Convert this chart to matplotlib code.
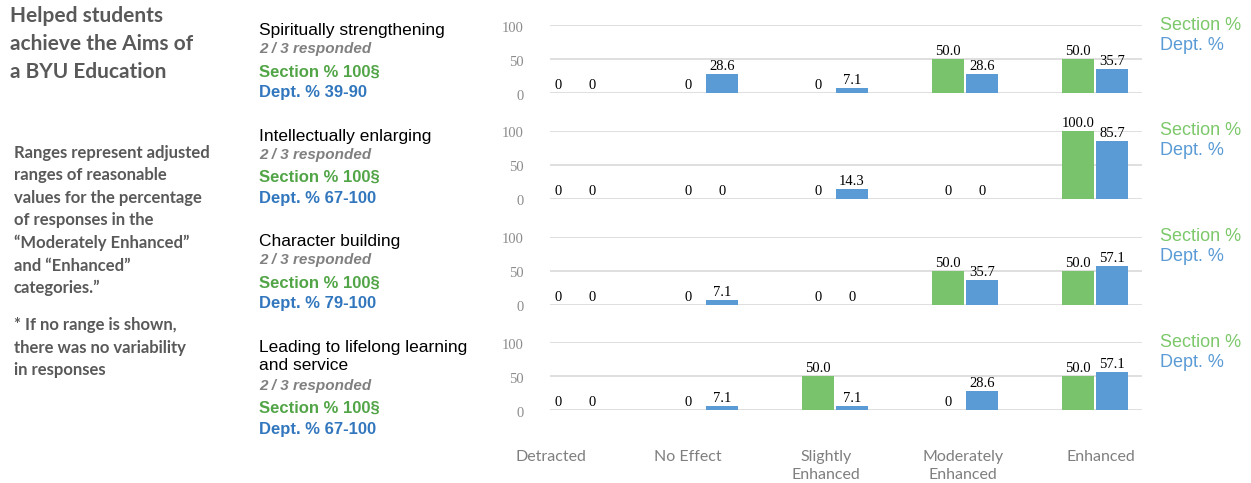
import matplotlib
matplotlib.use("Agg")
import matplotlib.pyplot as plt
from matplotlib.transforms import offset_copy

W, H = 1251, 483

categories = ["Detracted", "No Effect", "Slightly\nEnhanced", "Moderately\nEnhanced", "Enhanced"]
titles = ["Spiritually strengthening", "Intellectually enlarging", "Character building",
          "Leading to lifelong learning\nand service"]
responded = ["2 / 3 responded"] * 4
section_ranges = ["Section % 100§"] * 4
dept_ranges = ["Dept. % 39-90", "Dept. % 67-100", "Dept. % 79-100", "Dept. % 67-100"]

section_pct = [
    [0, 0, 0, 50.0, 50.0],
    [0, 0, 0, 0, 100.0],
    [0, 0, 0, 50.0, 50.0],
    [0, 0, 50.0, 0, 50.0],
]
dept_pct = [
    [0, 28.6, 7.1, 28.6, 35.7],
    [0, 0, 14.3, 0, 85.7],
    [0, 7.1, 0, 35.7, 57.1],
    [0, 7.1, 7.1, 28.6, 57.1],
]

GREEN = "#78c36b"
BLUE = "#5b9bd5"
GREEN_TXT = "#52a547"
BLUE_TXT = "#3277bd"
GRID = "#d9d9d9"


def fx(x):
    return x / W


def fy(y):
    return 1 - y / H


fig = plt.figure(figsize=(W / 100, H / 100), dpi=100)

# left side notes
fig.text(fx(10), fy(6), "Helped students\nachieve the Aims of\na BYU Education",
         fontsize=15, fontweight="bold", family="Lato", color="#595959",
         va="top", ha="left", linespacing=1.5)
fig.text(fx(14), fy(145), "Ranges represent adjusted\nranges of reasonable\nvalues for the percentage\n"
         "of responses in the\n\u201cModerately Enhanced\u201d\nand \u201cEnhanced\u201d\ncategories.\u201d",
         fontsize=12, fontweight="bold", family="Lato", color="#595959",
         va="top", ha="left", linespacing=1.49)
fig.text(fx(14), fy(317), "* If no range is shown,\nthere was no variability\nin responses",
         fontsize=12, fontweight="bold", family="Lato", color="#595959",
         va="top", ha="left", linespacing=1.5)

step = 105.7
bw = 0.246
off = 0.131
x = list(range(len(categories)))

for i in range(4):
    y0 = 93.3 + step * i
    ax = fig.add_axes([fx(550), fy(y0), 592 / W, 68 / H])
    ax.set_xlim(-0.19, 4.36)
    ax.set_ylim(0, 100)
    for v in (0, 50, 100):
        ax.axhline(v, color=GRID, lw=1.2, zorder=0)
    ax.axis("off")

    ax.bar([p - off for p in x], section_pct[i], width=bw, color=GREEN, zorder=2)
    ax.bar([p + off for p in x], dept_pct[i], width=bw, color=BLUE, zorder=2)

    lab_tr = offset_copy(ax.transData, fig=fig, x=0, y=4, units="dots")
    for p, s, d in zip(x, section_pct[i], dept_pct[i]):
        for xx, val in ((p - off, s), (p + off, d)):
            txt = "0" if val == 0 else f"{val:.1f}"
            ax.text(xx, val, txt, transform=lab_tr, ha="center", va="baseline",
                    fontsize=10.5, family="Liberation Serif", color="black", clip_on=False)

    tick_tr = offset_copy(ax.get_yaxis_transform(), fig=fig, x=-26, y=-3, units="dots")
    for v in (0, 50, 100):
        ax.text(0, v, str(v), transform=tick_tr, ha="right", va="center",
                fontsize=10.5, family="Liberation Serif", color="#8c8c8c")

    # legend text on the right
    fig.text(fx(1160), fy(25 + step * i), "Section %", color="#7cc86a", fontsize=13,
             family="Liberation Sans", va="center", ha="left")
    fig.text(fx(1160), fy(45 + step * i), "Dept. %", color="#5b9bd5", fontsize=13,
             family="Liberation Sans", va="center", ha="left")

    # panel description text
    ty = 29 + step * i
    nlines = titles[i].count("\n")
    fig.text(fx(259), fy(ty - 6), titles[i], fontsize=12.5, family="Liberation Sans",
             color="black", va="top", ha="left", linespacing=1.2)
    ty += 19.5 * nlines
    fig.text(fx(259), fy(ty + 20), responded[i], fontsize=11, family="Liberation Sans",
             fontweight="bold", fontstyle="italic", color="#808080", va="center", ha="left")
    fig.text(fx(259), fy(ty + 43), section_ranges[i], fontsize=12, family="Liberation Sans",
             fontweight="bold", color=GREEN_TXT, va="center", ha="left")
    fig.text(fx(259), fy(ty + 63.5), dept_ranges[i], fontsize=12, family="Liberation Sans",
             fontweight="bold", color=BLUE_TXT, va="center", ha="left")

# category labels under the panels
lab = fig.add_axes([fx(482), 0, 687.5 / W, fy(450)])
lab.set_xlim(-0.5, 4.5)
lab.set_ylim(0, 1)
lab.axis("off")
for p, c in zip(x, categories):
    lab.text(p, 1, c, ha="center", va="top", fontsize=11.5, family="Lato",
             color="#7f7f7f", linespacing=1.35)

fig.savefig("out.png", dpi=100)
